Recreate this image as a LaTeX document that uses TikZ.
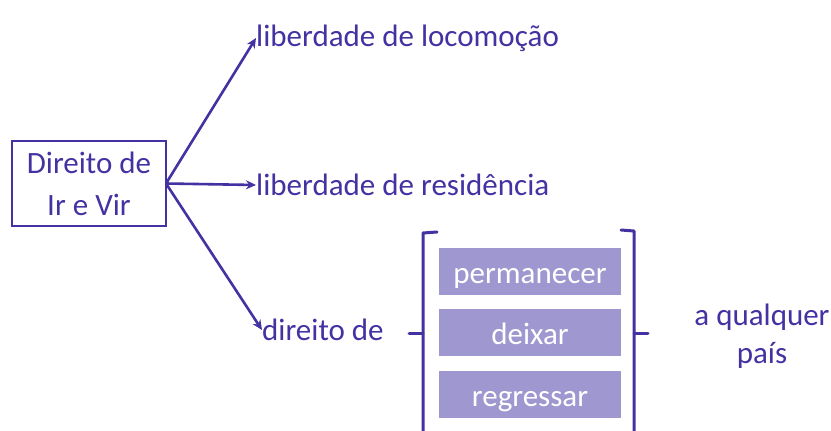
\documentclass[tikz,border=0pt]{standalone}
\usepackage{fontspec}
\setmainfont{Carlito}
\usetikzlibrary{arrows.meta}
\definecolor{ink}{HTML}{4232A2}
\definecolor{lav}{HTML}{9F97CF}
\begin{document}
\begin{tikzpicture}[x=1pt,y=-1pt,
  txt/.style={text=ink,font=\fontsize{31}{42}\selectfont,inner sep=0pt},
  mainbox/.style={draw=ink,line width=2.6pt,minimum width=154pt,minimum height=85pt,align=center,text=ink,font=\fontsize{31}{42}\selectfont,inner sep=0pt},
  verb/.style={fill=lav,minimum width=182pt,minimum height=47pt,text=white,font=\fontsize{31}{34}\selectfont,inner sep=0pt,text height=27pt,text depth=4pt},
  conn/.style={draw=ink,line width=2.6pt,-{Stealth[length=10pt,width=9pt]}},
  brk/.style={draw=ink,line width=3pt,line cap=round,line join=round}]
\useasboundingbox (0,0) rectangle (831,431);
\node[mainbox] (dir) at (89,183.5) {Direito de\\Ir e Vir};
\node[txt,anchor=west] (loc) at (256,38) {liberdade de locomoção};
\node[txt,anchor=west] (res) at (256,185) {liberdade de residência};
\node[txt,anchor=west] (dd) at (262,330) {direito de};
\node[verb] (p) at (530,271.5) {permanecer};
\node[verb] (d) at (530,332.5) {deixar};
\node[verb] (r) at (530,394.5) {regressar};
\node[txt,align=center,font=\fontsize{31}{38}\selectfont] (aq) at (762,336) {a qualquer\\país};
\coordinate (o) at (166,183.5);
\draw[conn] (o) -- (loc.west);
\draw[conn] (o) -- (res.west);
\draw[conn] (o) -- (dd.west);
\draw[brk] (437,232) -- (423,233) -- (423,431);
\draw[brk] (409,333) -- (423,333);
\draw[brk] (621,230) -- (634,231) -- (634,431);
\draw[brk] (634,333) -- (648,333);
\end{tikzpicture}
\end{document}
